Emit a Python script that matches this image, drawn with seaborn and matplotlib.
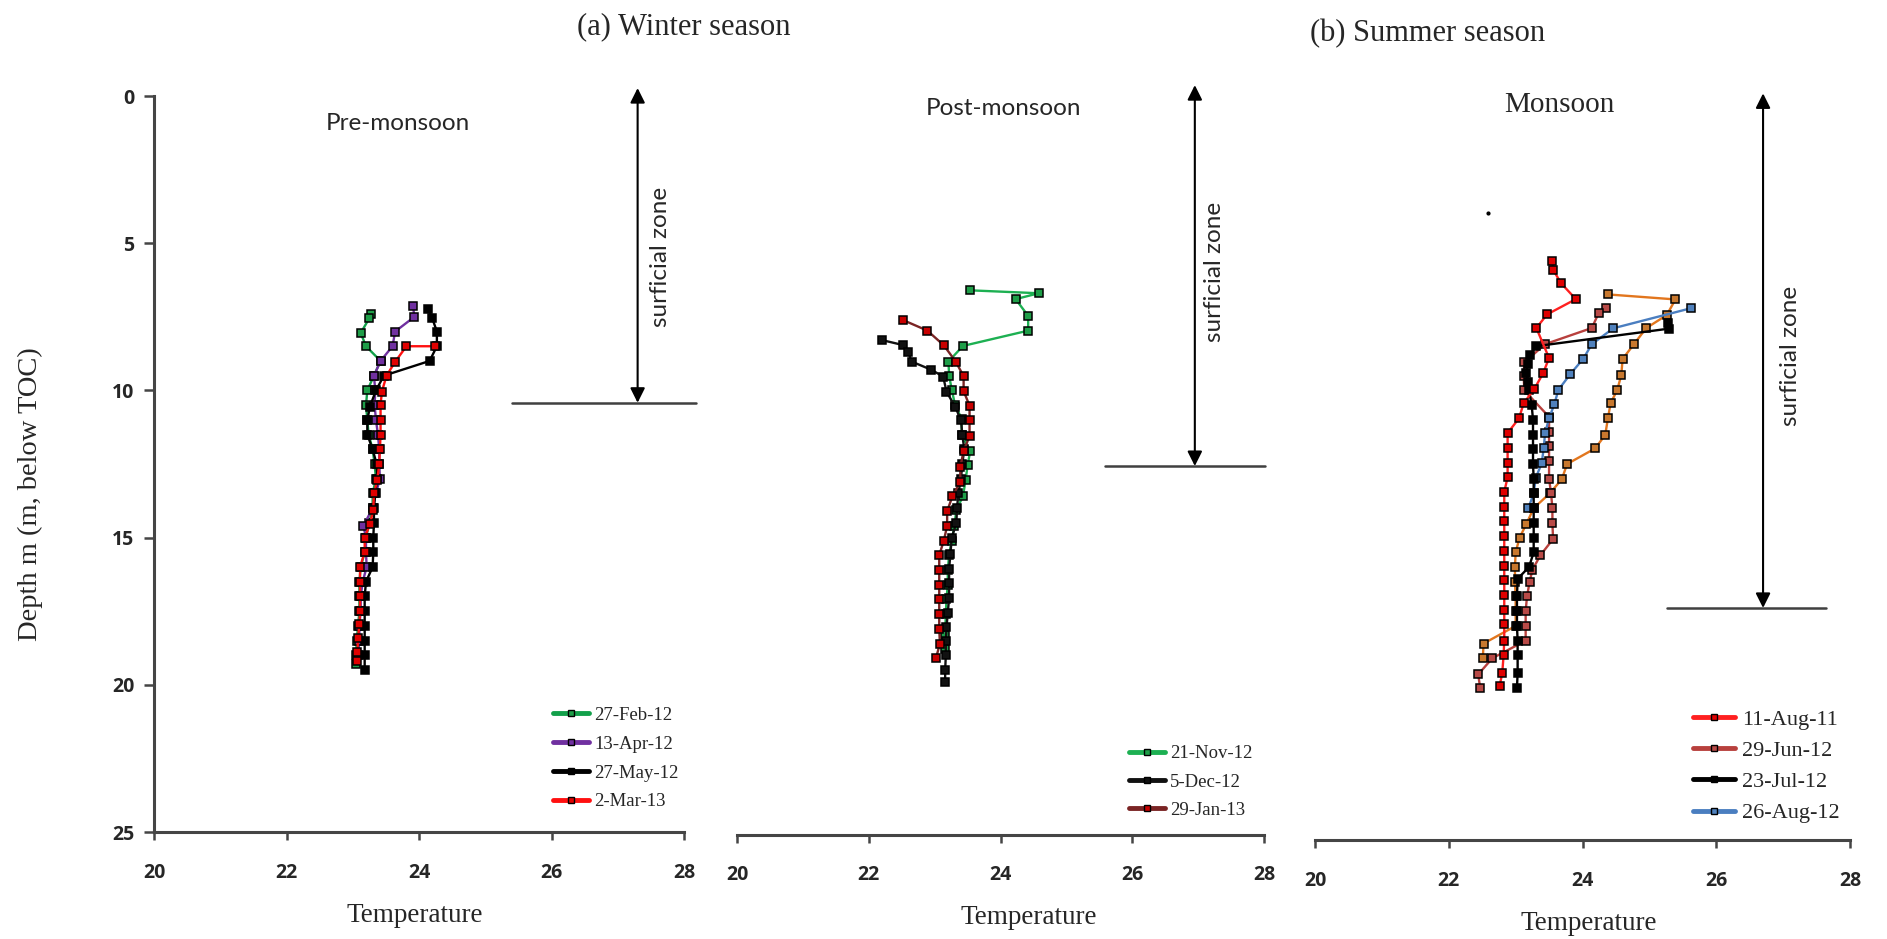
import pandas as pd
import seaborn as sns
import matplotlib.pyplot as plt
from matplotlib.lines import Line2D

# ---- data (temperature in deg C, depth in m below TOC) ----
# (a) Winter season - Pre-monsoon
feb12_d = [7.4, 7.55, 8.05, 8.5, 9.0, 9.5, 10.0, 10.5, 11.0, 11.5, 12.0, 12.5, 13.0,
           13.5, 14.0, 14.5, 15.0, 15.5, 16.0, 16.5, 17.0, 17.5, 18.0, 18.5, 19.0, 19.3]
feb12_t = [23.28, 23.25, 23.12, 23.2, 23.42, 23.32, 23.22, 23.2, 23.22, 23.24, 23.3, 23.33, 23.35,
           23.3, 23.3, 23.25, 23.2, 23.18, 23.12, 23.1, 23.1, 23.1, 23.08, 23.06, 23.05, 23.05]
apr12_d = [7.15, 7.5, 8.0, 8.5, 9.0, 9.5, 10.0, 10.5, 11.0, 11.5, 12.0, 12.5, 13.0,
           13.5, 14.0, 14.6, 15.0, 15.5, 16.0, 16.5, 17.0, 17.5, 18.0, 18.5, 19.0]
apr12_t = [23.91, 23.93, 23.64, 23.6, 23.42, 23.32, 23.34, 23.33, 23.35, 23.38, 23.4, 23.4, 23.41,
           23.35, 23.3, 23.16, 23.2, 23.2, 23.21, 23.15, 23.12, 23.12, 23.1, 23.1, 23.08]
may12_d = [7.25, 7.55, 8.0, 8.5, 9.0, 9.5, 10.0, 10.55, 11.0, 11.5, 12.0, 12.5, 13.0,
           13.5, 14.0, 14.5, 15.0, 15.5, 16.0, 16.5, 17.0, 17.5, 18.0, 18.5, 19.0, 19.5]
may12_t = [24.14, 24.2, 24.27, 24.27, 24.16, 23.47, 23.35, 23.26, 23.22, 23.22, 23.3, 23.36, 23.37,
           23.34, 23.32, 23.32, 23.31, 23.31, 23.3, 23.2, 23.18, 23.18, 23.18, 23.18, 23.18, 23.18]
mar13_d = [8.5, 8.5, 9.03, 9.5, 10.04, 10.5, 11.0, 11.5, 12.0, 12.5, 13.05, 13.5,
           14.05, 14.55, 15.0, 15.5, 16.0, 16.5, 17.0, 17.5, 17.95, 18.4, 18.9, 19.2]
mar13_t = [24.24, 23.81, 23.64, 23.51, 23.44, 23.42, 23.42, 23.42, 23.41, 23.4, 23.37, 23.32,
           23.31, 23.26, 23.18, 23.18, 23.11, 23.11, 23.11, 23.11, 23.1, 23.08, 23.07, 23.07]

# (a) Winter season - Post-monsoon
nov12_d = [6.6, 6.7, 6.9, 7.47, 7.97, 8.49, 9.02, 9.5, 9.97, 10.5, 10.96, 11.5, 12.07,
           12.55, 13.05, 13.6, 14.05, 14.6, 15.1, 15.6, 16.1, 16.6, 17.1, 17.6, 18.3, 18.8]
nov12_t = [23.53, 24.58, 24.23, 24.42, 24.42, 23.43, 23.21, 23.22, 23.26, 23.31, 23.41, 23.41, 23.54,
           23.5, 23.47, 23.43, 23.33, 23.3, 23.26, 23.22, 23.2, 23.2, 23.18, 23.17, 23.16, 23.15]
dec12_d = [8.29, 8.46, 8.7, 9.02, 9.3, 9.53, 10.04, 10.55, 11.0, 11.5, 12.0, 12.5, 13.0, 13.5,
           14.0, 14.5, 15.0, 15.55, 16.05, 16.55, 17.05, 17.55, 18.05, 18.5, 19.0, 19.5, 19.9]
dec12_t = [22.2, 22.52, 22.6, 22.65, 22.95, 23.13, 23.18, 23.31, 23.4, 23.42, 23.45, 23.42, 23.4, 23.36,
           23.34, 23.33, 23.26, 23.24, 23.22, 23.22, 23.22, 23.2, 23.18, 23.17, 23.17, 23.16, 23.16]
jan13_d = [7.61, 7.97, 8.47, 9.02, 9.52, 10.02, 10.52, 11.02, 11.55, 12.06, 12.6, 13.1,
           13.6, 14.1, 14.6, 15.1, 15.6, 16.1, 16.6, 17.1, 17.6, 18.1, 18.6, 19.1]
jan13_t = [22.52, 22.89, 23.14, 23.32, 23.44, 23.44, 23.53, 23.53, 23.53, 23.44, 23.39, 23.39,
           23.27, 23.19, 23.19, 23.14, 23.07, 23.07, 23.07, 23.07, 23.07, 23.07, 23.08, 23.02]

# (b) Summer season - Monsoon
aug11_d = [5.6, 5.9, 6.36, 6.9, 7.42, 7.88, 8.9, 9.42, 9.95, 10.44, 10.95, 11.45, 11.95, 12.45, 12.95,
           13.45, 13.95, 14.45, 14.95, 15.45, 15.95, 16.45, 16.95, 17.45, 17.95, 18.5, 19.0, 19.6, 20.05]
aug11_t = [23.55, 23.56, 23.68, 23.9, 23.47, 23.31, 23.5, 23.41, 23.28, 23.12, 23.05, 22.88, 22.88, 22.88, 22.88,
           22.83, 22.83, 22.83, 22.83, 22.83, 22.83, 22.83, 22.83, 22.83, 22.83, 22.83, 22.82, 22.8, 22.76]
jun12_d = [7.2, 7.38, 7.88, 8.43, 9.05, 9.5, 10.0, 10.9, 11.4, 11.9, 12.4, 13.0, 13.5,
           14.0, 14.5, 15.05, 15.6, 16.1, 16.5, 17.0, 17.5, 18.0, 18.5, 19.1, 19.65, 20.1]
jun12_t = [24.35, 24.24, 24.14, 23.44, 23.13, 23.12, 23.13, 23.5, 23.5, 23.5, 23.5, 23.5, 23.53,
           23.55, 23.55, 23.56, 23.37, 23.25, 23.21, 23.17, 23.15, 23.15, 23.15, 22.65, 22.44, 22.47]
jul12_d = [7.72, 7.9, 8.5, 8.8, 9.1, 9.4, 9.7, 10.0, 10.5, 11.0, 11.5, 12.0, 12.5, 13.0,
           13.5, 14.0, 14.5, 15.0, 15.5, 16.0, 16.4, 17.0, 17.5, 18.0, 18.5, 19.0, 19.6, 20.1]
jul12_t = [25.28, 25.3, 23.3, 23.22, 23.18, 23.16, 23.18, 23.2, 23.24, 23.26, 23.26, 23.26, 23.26, 23.27,
           23.27, 23.27, 23.27, 23.27, 23.27, 23.2, 23.03, 23.02, 23.02, 23.02, 23.03, 23.03, 23.03, 23.02]
aug12_d = [7.21, 7.89, 8.43, 8.93, 9.44, 9.98, 10.46, 10.95, 11.46, 11.97, 12.47, 12.98, 13.5, 14.0]
aug12_t = [25.62, 24.46, 24.14, 24.01, 23.82, 23.64, 23.58, 23.5, 23.44, 23.42, 23.39, 23.3, 23.27, 23.19]
# orange profile drawn in the monsoon panel but not listed in its legend
extra_d = [6.74, 6.91, 7.44, 7.89, 8.43, 8.93, 9.48, 9.98, 10.44, 10.95, 11.51, 11.97, 12.5,
           13.02, 13.5, 14.0, 14.54, 15.0, 15.5, 16.0, 16.5, 17.0, 17.5, 18.0, 18.6, 19.1]
extra_t = [24.38, 25.39, 25.26, 24.95, 24.77, 24.6, 24.58, 24.52, 24.42, 24.38, 24.34, 24.19, 23.77,
           23.69, 23.51, 23.27, 23.16, 23.06, 23.0, 22.99, 22.99, 23.0, 23.0, 23.0, 22.52, 22.51]
stray_t = [22.59]
stray_d = [3.97]

# surficial zone markers: arrow x, arrow top, arrow bottom, horizontal line extent
zone_x = [27.3, 26.95, 26.7]
zone_top = [-0.27, -0.37, -0.09]
zone_bottom = [10.42, 12.57, 17.39]
zone_line_x = [(25.41, 28.18), (25.58, 28.02), (25.26, 27.64)]

panels = [
    {'name': 'Pre-monsoon',
     'series': [('27-Feb-12', feb12_t, feb12_d), ('13-Apr-12', apr12_t, apr12_d),
                ('27-May-12', may12_t, may12_d), ('2-Mar-13', mar13_t, mar13_d)],
     'line': ['#12A04A', '#7030A0', '#000000', '#FF1010'],
     'face': ['#1E9E48', '#7030A0', '#000000', '#E00000']},
    {'name': 'Post-monsoon',
     'series': [('21-Nov-12', nov12_t, nov12_d), ('5-Dec-12', dec12_t, dec12_d),
                ('29-Jan-13', jan13_t, jan13_d)],
     'line': ['#1DB052', '#111111', '#7A2424'],
     'face': ['#1E9E48', '#111111', '#C80000']},
    {'name': 'Monsoon',
     'series': [('extra', extra_t, extra_d), ('29-Jun-12', jun12_t, jun12_d),
                ('26-Aug-12', aug12_t, aug12_d), ('23-Jul-12', jul12_t, jul12_d),
                ('11-Aug-11', aug11_t, aug11_d)],
     'line': ['#E2761E', '#B8403D', '#4A7EC0', '#000000', '#FF2020'],
     'face': ['#C8782E', '#B84A47', '#4F81BD', '#000000', '#E00000']},
]
legend_order = [['27-Feb-12', '13-Apr-12', '27-May-12', '2-Mar-13'],
                ['21-Nov-12', '5-Dec-12', '29-Jan-13'],
                ['11-Aug-11', '29-Jun-12', '23-Jul-12', '26-Aug-12']]

sns.set_style('white')
plt.rcParams['font.family'] = ['DejaVu Sans']
serif = 'Liberation Serif'
sans = 'Lato'
tick_font = {'family': 'Open Sans', 'weight': 'bold', 'size': 14}

W, H = 1887, 939
fig = plt.figure(figsize=(W / 100, H / 100), dpi=100)


def px_rect(l, r, t, b):
    return [l / W, 1 - b / H, (r - l) / W, (b - t) / H]


axes = [fig.add_axes(px_rect(154, 684, 96, 832)),
        fig.add_axes(px_rect(737, 1264, 96, 832)),
        fig.add_axes(px_rect(1315, 1850, 96, 832))]

spine_col = '#454545'
for i, (ax, p) in enumerate(zip(axes, panels)):
    frames = [pd.DataFrame({'temp': t, 'depth': d, 'date': name}) for name, t, d in p['series']]
    df = pd.concat(frames, ignore_index=True)
    order = [s[0] for s in p['series']]
    sns.lineplot(data=df, x='temp', y='depth', hue='date', hue_order=order,
                 palette=dict(zip(order, p['line'])), sort=False, estimator=None,
                 marker='s', markersize=6, markeredgecolor='black', markeredgewidth=1.1,
                 linewidth=1.7, legend=False, ax=ax)
    for ln, fc in zip(ax.get_lines(), p['face']):
        ln.set_markerfacecolor(fc)

    ax.set_xlim(20, 28)
    ax.set_ylim(25, 0)
    ax.set_xlabel('')
    ax.set_ylabel('')
    for s in ['top', 'right']:
        ax.spines[s].set_visible(False)
    if i > 0:
        ax.spines['left'].set_visible(False)
        ax.spines['bottom'].set_position(('outward', 2 if i == 1 else 6))
    ax.spines['bottom'].set_color(spine_col)
    ax.spines['bottom'].set_linewidth(2.2)
    ax.set_xticks([20, 22, 24, 26, 28])
    ax.set_xticklabels(['20', '22', '24', '26', '28'], fontdict=tick_font, color='#262626')
    ax.tick_params(axis='x', bottom=True, direction='out', length=6, width=1.8,
                   color=spine_col, pad=16)
    if i == 0:
        ax.set_yticks([0, 5, 10, 15, 20, 25])
        ax.set_yticklabels(['0', '5', '10', '15', '20', '25'], fontdict=tick_font, color='#262626')
        ax.spines['left'].set_color(spine_col)
        ax.spines['left'].set_linewidth(2.2)
        ax.tick_params(axis='y', left=True, direction='out', length=7, width=1.8,
                       color=spine_col, pad=7)
    else:
        ax.set_yticks([])

    # surficial zone arrow, limit line and label
    ax.annotate('', xy=(zone_x[i], zone_top[i]), xytext=(zone_x[i], zone_bottom[i]),
                arrowprops=dict(arrowstyle='<|-|>', color='black', lw=1.5,
                                mutation_scale=22, shrinkA=0, shrinkB=0),
                annotation_clip=False)
    ax.plot(zone_line_x[i], [zone_bottom[i], zone_bottom[i]], color='#404040',
            lw=1.8, clip_on=False)

    # legend
    names = [s[0] for s in p['series']]
    handles = []
    for lab in legend_order[i]:
        k = names.index(lab)
        handles.append(Line2D([], [], color=p['line'][k], lw=3.5, marker='s', markersize=5,
                              markerfacecolor=p['face'][k], markeredgecolor='black'))
    leg_anchor = [(0.753, 0.170), (0.744, 0.118), (0.707, 0.167)][i]
    leg_size = [13.5, 13.5, 16][i]
    ax.legend(handles, legend_order[i], loc='upper left', bbox_to_anchor=leg_anchor,
              frameon=False, borderpad=0, borderaxespad=0, handlelength=1.9,
              handletextpad=0.3, labelspacing=[0.62, 0.6, 0.48][i],
              prop={'family': serif, 'size': leg_size})

# panel captions inside the plots
axes[0].text(23.68, 0.95, 'Pre-monsoon', ha='center', va='center', family=sans, fontsize=17.5)
axes[1].text(24.05, 0.42, 'Post-monsoon', ha='center', va='center', family=sans, fontsize=17.5)
axes[2].text(23.65, 0.31, 'Monsoon', ha='center', va='center', family=serif, fontsize=21)
for ax, tx, ty in zip(axes, [27.65, 27.25, 27.11], [5.47, 5.99, 8.83]):
    ax.text(tx, ty, 'surficial zone', rotation=90, ha='center', va='center',
            family=sans, fontsize=17.5)

axes[2].plot(stray_t, stray_d, 'o', color='black', markersize=2)

# figure texts
fig.text(684 / W, 1 - 27 / H, '(a) Winter season', ha='center', va='center',
         family=serif, fontsize=22)
fig.text(1428 / W, 1 - 34 / H, '(b) Summer season', ha='center', va='center',
         family=serif, fontsize=22)
for xp, yp in [(415, 915), (1029, 917), (1589, 924)]:
    fig.text(xp / W, 1 - yp / H, 'Temperature', ha='center', va='center',
             family=serif, fontsize=19.5)
fig.text(30 / W, 1 - 494 / H, 'Depth m (m, below TOC)', rotation=90, ha='center',
         va='center', family=serif, fontsize=20.5)

fig.savefig('out.png', dpi=100, facecolor='white')
